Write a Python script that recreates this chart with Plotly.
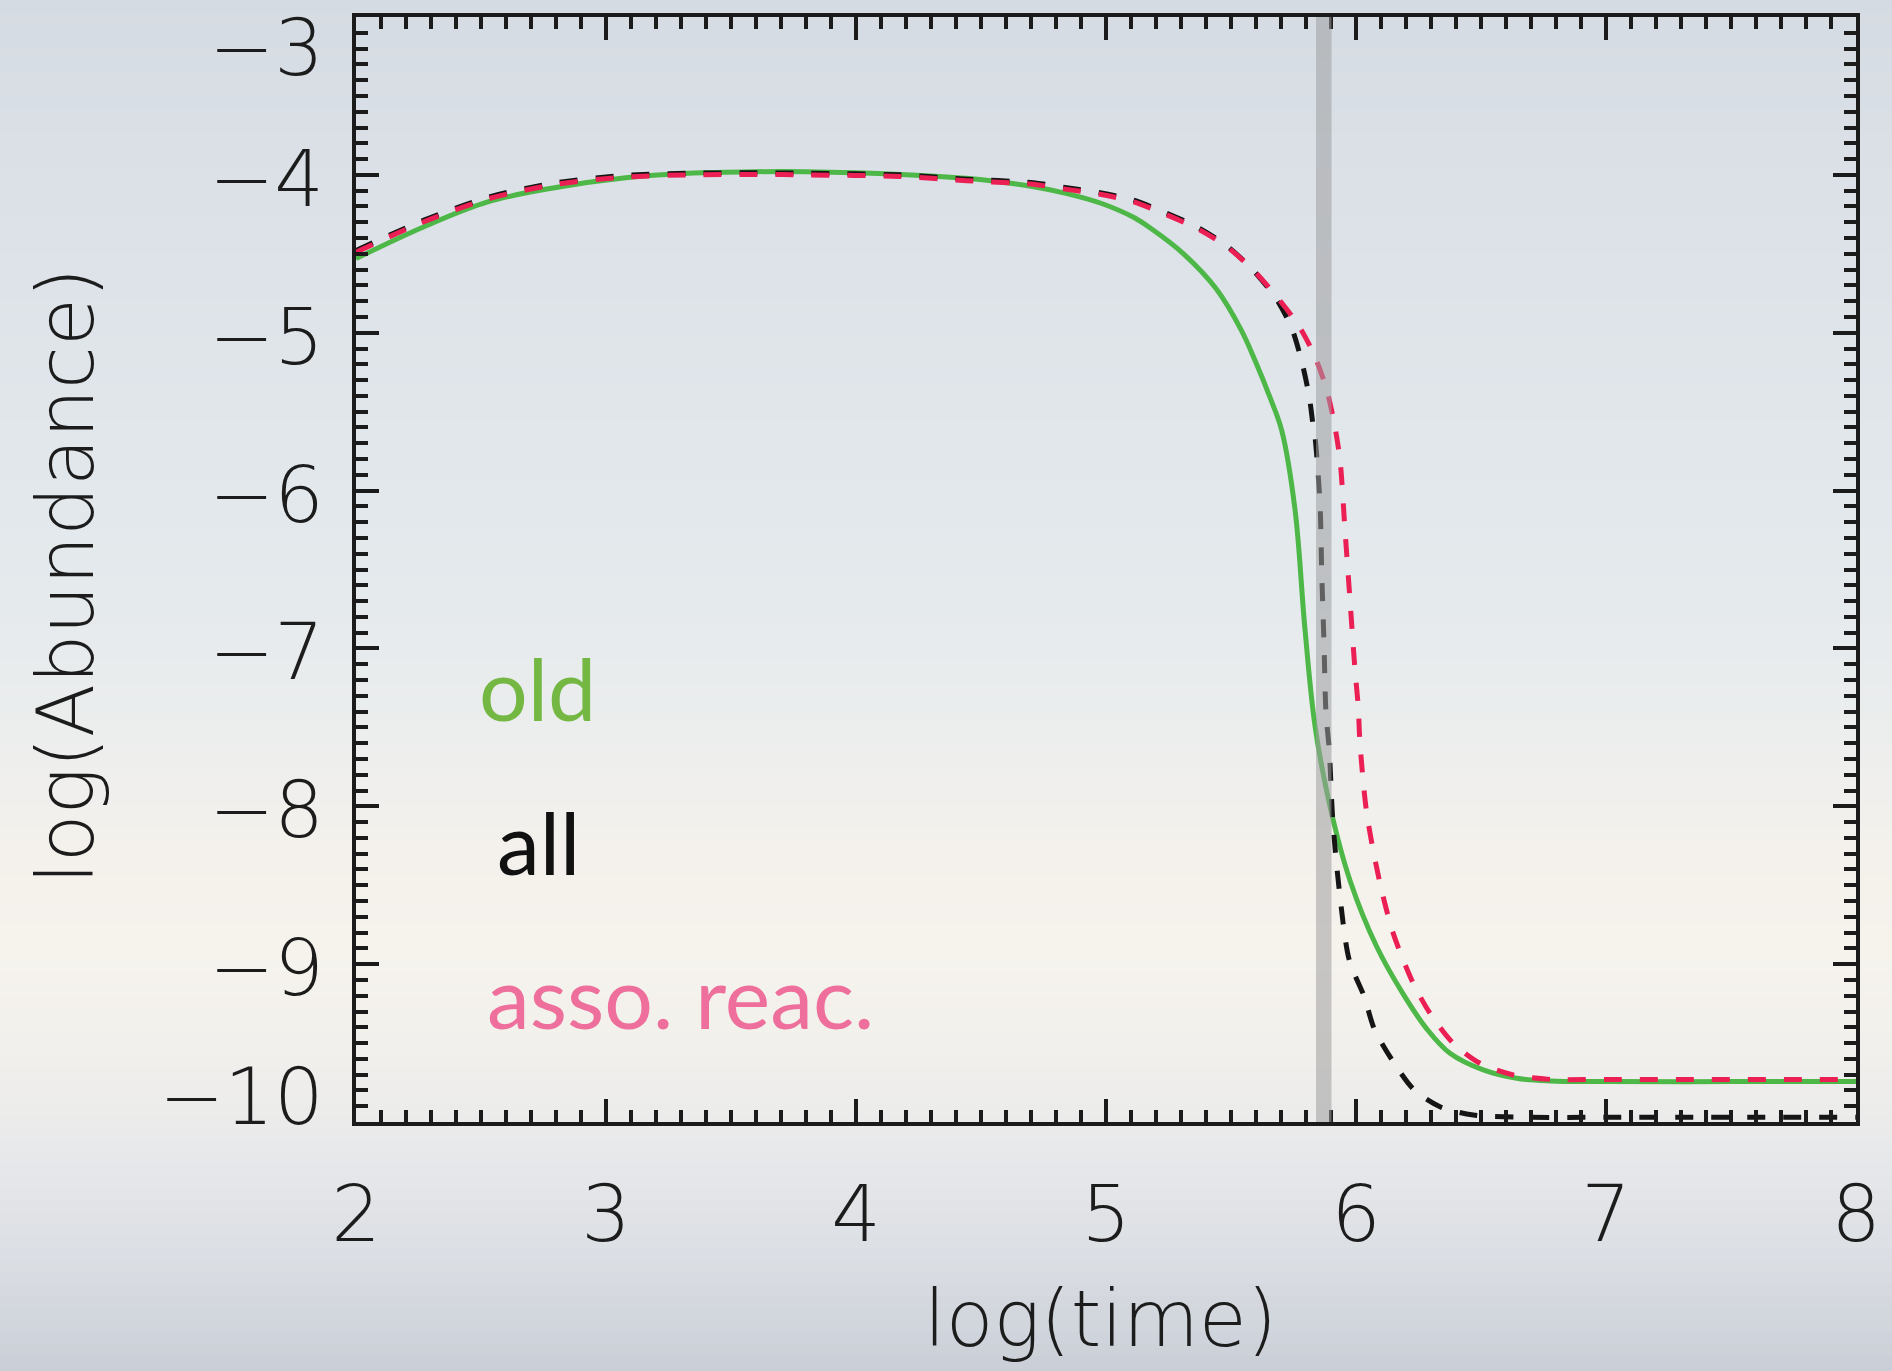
import plotly.graph_objects as go

# ---- data -------------------------------------------------------------
# "old" network (solid green)
old_x = [2.0, 2.27, 2.53, 2.8, 3.07, 3.33, 3.6, 3.8, 4.18, 4.44, 4.71, 4.84,
         4.98, 5.11, 5.18, 5.31, 5.44, 5.54, 5.60, 5.656, 5.703, 5.756, 5.796,
         5.836, 5.896, 5.976, 6.083, 6.189, 6.283, 6.376, 6.509, 6.643, 6.776,
         7.0, 7.5, 8.0]
old_y = [-4.53, -4.33, -4.17, -4.08, -4.02, -3.99, -3.98, -3.98, -3.997, -4.022,
         -4.075, -4.117, -4.18, -4.269, -4.34, -4.50, -4.72, -4.98, -5.19, -5.41,
         -5.62, -6.12, -6.88, -7.49, -8.0, -8.47, -8.89, -9.19, -9.41, -9.565,
         -9.67, -9.723, -9.74, -9.744, -9.744, -9.744]

# "all" reactions (black dashed)
all_x = [2.0, 2.267, 2.533, 2.8, 3.067, 3.333, 3.6, 3.8, 4.176, 4.443, 4.709,
         4.843, 4.976, 5.109, 5.229, 5.363, 5.483, 5.589, 5.683, 5.743, 5.783,
         5.813, 5.829, 5.836, 5.856, 5.863, 5.872, 5.88, 5.893, 5.907, 5.933,
         5.973, 6.033, 6.073, 6.153, 6.233, 6.336, 6.469, 6.7, 7.0, 8.0]
all_y = [-4.48, -4.29, -4.14, -4.05, -4.005, -3.99, -3.987, -3.99, -4.0, -4.027,
         -4.05, -4.082, -4.113, -4.16, -4.234, -4.33, -4.45, -4.605, -4.79,
         -4.972, -5.183, -5.405, -5.595, -5.659, -6.08, -6.524, -6.967, -7.41,
         -7.643, -8.087, -8.53, -8.974, -9.206, -9.41, -9.628, -9.797, -9.903,
         -9.956, -9.97, -9.97, -9.97]

# associative reactions (red dashed)
asso_x = [2.0, 2.267, 2.533, 2.8, 3.067, 3.333, 3.6, 3.8, 4.176, 4.443, 4.709,
          4.843, 4.976, 5.109, 5.229, 5.363, 5.483, 5.589, 5.683, 5.769, 5.836,
          5.883, 5.913, 5.936, 5.956, 5.976, 5.996, 6.009, 6.016, 6.043, 6.096,
          6.149, 6.229, 6.296, 6.389, 6.496, 6.629, 6.776, 7.0, 8.0]
asso_y = [-4.49, -4.30, -4.15, -4.06, -4.015, -4.0, -3.997, -4.0, -4.01, -4.037,
          -4.06, -4.092, -4.123, -4.17, -4.244, -4.339, -4.455, -4.603, -4.772,
          -4.951, -5.152, -5.363, -5.574, -5.806, -6.25, -6.693, -7.137, -7.369,
          -7.601, -8.045, -8.488, -8.805, -9.122, -9.311, -9.501, -9.628, -9.702,
          -9.73, -9.73, -9.73]

x_ticks = [2, 3, 4, 5, 6, 7, 8]
y_ticks = [-3, -4, -5, -6, -7, -8, -9, -10]
y_tick_labels = ["\u22123", "\u22124", "\u22125", "\u22126", "\u22127",
                 "\u22128", "\u22129", "\u221210"]
marker_time = 5.871  # vertical reference time

labels = ["old", "all", "asso. reac."]
label_colors = ["#74B843", "#111111", "#EE6F9C"]
label_x = [2.484, 2.556, 2.516]
label_y = [-7.25, -8.22, -9.2]

# ---- figure -----------------------------------------------------------
AX_FONT = dict(family="DejaVu Sans", size=78, color="#1c1c1c", weight=200)
INK = "#1b1b1b"

fig = go.Figure()

fig.add_trace(go.Scatter(x=old_x, y=old_y, mode="lines",
                         line=dict(color="#4DB748", width=5, shape="spline", smoothing=1.0),
                         showlegend=False, hoverinfo="skip"))
fig.add_trace(go.Scatter(x=all_x, y=all_y, mode="lines",
                         line=dict(color="#151515", width=5, dash="18px,18px",
                                   shape="spline", smoothing=0.8),
                         showlegend=False, hoverinfo="skip"))
fig.add_trace(go.Scatter(x=asso_x, y=asso_y, mode="lines",
                         line=dict(color="#EC1F55", width=5, dash="18px,18px",
                                   shape="spline", smoothing=0.8),
                         showlegend=False, hoverinfo="skip"))

# soft slide background: horizontal colour bands behind everything
stops = [(0, (213, 219, 226)), (150, (218, 224, 230)), (400, (224, 230, 234)),
         (600, (229, 234, 237)), (750, (237, 238, 237)), (850, (244, 241, 236)),
         (950, (246, 243, 237)), (1050, (242, 240, 236)), (1150, (232, 233, 235)),
         (1250, (220, 223, 228)), (1371, (202, 207, 215))]
W, H = 1892, 1371
L, R, T, B = 356, 36, 17, 249
pw, ph = W - L - R, H - T - B


def py(Y):
    return (H - B - Y) / ph


def px(X):
    return (X - L) / pw


def colour_at(Y):
    for (y0, c0), (y1, c1) in zip(stops[:-1], stops[1:]):
        if y0 <= Y <= y1:
            f = (Y - y0) / (y1 - y0)
            return tuple(round(a + (b - a) * f) for a, b in zip(c0, c1))
    return stops[-1][1]


shapes = []
step = 12
for Y in range(0, H, step):
    c = colour_at(Y + step / 2)
    shapes.append(dict(type="rect", xref="paper", yref="paper", layer="below",
                       x0=px(0), x1=px(W), y0=py(Y + step + 1), y1=py(Y),
                       fillcolor="rgb(%d,%d,%d)" % c, line=dict(width=0)))

# translucent grey marker band at the reference time
shapes.append(dict(type="rect", xref="x", yref="paper", layer="above",
                   x0=marker_time - 0.031, x1=marker_time + 0.031, y0=0, y1=1,
                   fillcolor="rgba(158,158,160,0.55)", line=dict(width=0)))

annotations = []
for v, t in zip(y_ticks, y_tick_labels):
    shift = -31 if v == -3 else (25 if v == -10 else -4)
    annotations.append(dict(x=0, xref="paper", y=v, yref="y", text=t,
                            showarrow=False, xanchor="right", yanchor="middle",
                            xshift=-30, yshift=shift, font=AX_FONT))

for t, c, lx, ly in zip(labels, label_colors, label_x, label_y):
    annotations.append(dict(x=lx, y=ly, xref="x", yref="y", text=t, showarrow=False,
                            xanchor="left", yanchor="middle",
                            font=dict(family="Lato", size=86, color=c)))

annotations.append(dict(x=px(1100), y=py(1319), xref="paper", yref="paper",
                        text="log(time)", showarrow=False, xanchor="center",
                        yanchor="middle", font=AX_FONT))
annotations.append(dict(x=px(66), y=py(576), xref="paper", yref="paper",
                        text="log(Abundance)", showarrow=False, textangle=-90,
                        xanchor="center", yanchor="middle", font=AX_FONT))

axis_common = dict(showline=True, linecolor=INK, linewidth=4, mirror="ticks",
                   ticks="inside", ticklen=23, tickwidth=4, tickcolor=INK,
                   showgrid=False, zeroline=False,
                   minor=dict(ticks="inside", ticklen=12, tickwidth=3.5,
                              tickcolor=INK, dtick=0.1, showgrid=False))

fig.update_xaxes(range=[2, 8], tickvals=x_ticks, ticktext=[str(v) for v in x_ticks],
                 tickfont=AX_FONT, ticklabelstandoff=21, **axis_common)
fig.update_yaxes(range=[-10, -3], tickvals=y_ticks, showticklabels=False,
                 **axis_common)

fig.update_layout(width=W, height=H, margin=dict(l=L, r=R, t=T, b=B),
                  paper_bgcolor="rgb(222,227,232)", plot_bgcolor="rgba(0,0,0,0)",
                  shapes=shapes, annotations=annotations, showlegend=False)

fig.write_html("out.html")
